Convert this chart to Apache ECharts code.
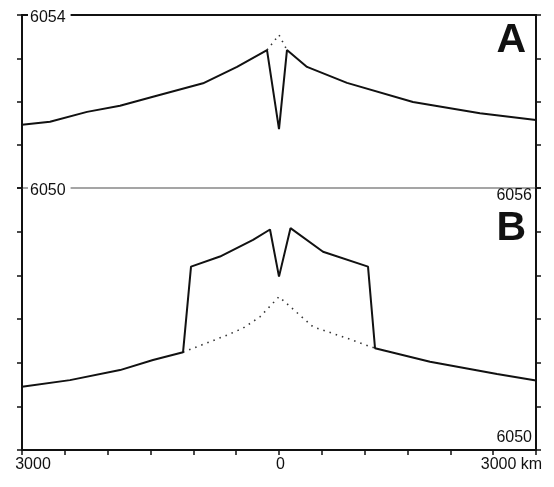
<!DOCTYPE html>
<html>
<head>
<meta charset="utf-8">
<script src="https://cdn.jsdelivr.net/npm/echarts@6/dist/echarts.min.js"></script>
<style>html,body{margin:0;padding:0;background:#fff}#c{width:554px;height:487px}</style>
</head>
<body>
<div id="c"></div>
<script>
// Panel A: radius (km) versus distance (km)
const kmA = [-3000, -2673, -2241, -1856, -1471, -887, -490, -140, 0, 93, 327, 794, 1564, 2346, 3000];
const radA = [6051.46, 6051.53, 6051.76, 6051.90, 6052.11, 6052.42, 6052.80, 6053.19, 6051.36, 6053.19, 6052.80, 6052.43, 6051.99, 6051.73, 6051.57];
const kmA0 = [-140, 0, 93];
const radA0 = [6053.19, 6053.54, 6053.19];
// Panel B
const kmB = [-3000, -2440, -1856, -1471, -1120, -1027, -689, -303, -105, 0, 134, 514, 1039, 1121, 1763, 2545, 3000];
const radB = [6051.45, 6051.60, 6051.83, 6052.06, 6052.24, 6054.20, 6054.43, 6054.81, 6055.05, 6053.97, 6055.08, 6054.54, 6054.20, 6052.33, 6052.02, 6051.74, 6051.59];
const kmB0 = [-1120, -607, -420, -222, 0, 397, 794, 1121];
const radB0 = [6052.24, 6052.63, 6052.79, 6053.05, 6053.51, 6052.82, 6052.56, 6052.33];
// tick labels
const xTickLabels = {'-3000': '3000', '0': '0', '3000': '3000 km'};
const yLabelsA = [6054, 6050];
const yLabelsB = [6056, 6050];
const panelNames = ['A', 'B'];

const zip = (a, b) => a.map((v, i) => [v, b[i]]);
const FONT = '"Liberation Sans", Arial, sans-serif';
const black = '#111';

const solid = {color: black, width: 2};
const dotted = {color: '#333', width: 1.6, type: [1.5, 5]};

const chart = echarts.init(document.getElementById('c'), null, {renderer: 'canvas'});
const hiddenAxisBits = {axisTick: {show: false}, axisLabel: {show: false}, splitLine: {show: false}};
const yLine = {show: true, onZero: false, lineStyle: {color: black, width: 2}};
const yTick = {show: true, length: 5, lineStyle: {color: black, width: 1.5}};

chart.setOption({
  animation: false,
  backgroundColor: '#fff',
  title: [
    {text: panelNames[0], right: 28, top: 20, padding: 0, textStyle: {fontFamily: FONT, fontSize: 41, fontWeight: 'bold', color: black}},
    {text: panelNames[1], right: 28, top: 208, padding: 0, textStyle: {fontFamily: FONT, fontSize: 41, fontWeight: 'bold', color: black}}
  ],
  grid: [
    {left: 22, right: 18, top: 15, height: 173},
    {left: 22, right: 18, top: 188, height: 262}
  ],
  xAxis: [
    {gridIndex: 0, type: 'value', min: -3000, max: 3000, interval: 500, position: 'top',
     axisLine: {onZero: false, lineStyle: {color: black, width: 2}}, ...hiddenAxisBits},
    {gridIndex: 0, type: 'value', min: -3000, max: 3000, interval: 500, position: 'bottom',
     axisLine: {onZero: false, lineStyle: {color: '#888', width: 1.5}}, ...hiddenAxisBits},
    {gridIndex: 1, type: 'value', min: -3000, max: 3000, interval: 500, position: 'bottom',
     axisLine: {onZero: false, lineStyle: {color: black, width: 2}},
     axisTick: {show: true, length: 5, lineStyle: {color: black, width: 1.5}},
     splitLine: {show: false},
     axisLabel: {
       show: true, margin: 7, color: black, fontFamily: FONT, fontSize: 16,
       formatter: v => {
         const t = xTickLabels[String(v)];
         if (t === undefined) return '';
         if (v < 0) return '{l|' + t + '}';
         if (v > 0) return '{r|' + t + '}';
         return '{c|' + t + '}';
       },
       rich: {
         l: {padding: [0, 0, 0, 22], fontFamily: FONT, fontSize: 16, color: black},
         r: {padding: [0, 49, 0, 0], fontFamily: FONT, fontSize: 16, color: black},
         c: {padding: [0, 0, 0, 3], fontFamily: FONT, fontSize: 16, color: black}
       }
     }}
  ],
  yAxis: [
    {gridIndex: 0, type: 'value', min: 6050, max: 6054, interval: 1, position: 'left', z: 5,
     axisLine: yLine, axisTick: yTick, splitLine: {show: false},
     axisLabel: {
       show: true, inside: true, margin: 6,
       formatter: v => yLabelsA.includes(v) ? '{w|' + v + '}' : '',
       rich: {w: {fontFamily: FONT, fontSize: 16, color: black, backgroundColor: '#fff', padding: [6, 5, 0, 2]}}
     }},
    {gridIndex: 0, type: 'value', min: 6050, max: 6054, interval: 1, position: 'right',
     axisLine: yLine, axisTick: yTick, splitLine: {show: false}, axisLabel: {show: false}},
    {gridIndex: 1, type: 'value', min: 6050, max: 6056, interval: 1, position: 'left',
     axisLine: yLine, axisTick: yTick, splitLine: {show: false}, axisLabel: {show: false}},
    {gridIndex: 1, type: 'value', min: 6050, max: 6056, interval: 1, position: 'right', z: 5,
     axisLine: yLine, axisTick: yTick, splitLine: {show: false},
     axisLabel: {
       show: true, inside: true, margin: 4,
       formatter: v => v === yLabelsB[0] ? '{t|' + v + '}' : (v === yLabelsB[1] ? '{b|' + v + '}' : ''),
       rich: {
         t: {fontFamily: FONT, fontSize: 16, color: black, padding: [16, 0, 0, 0]},
         b: {fontFamily: FONT, fontSize: 16, color: black, padding: [0, 0, 24, 0]}
       }
     }}
  ],
  series: [
    {type: 'line', xAxisIndex: 0, yAxisIndex: 0, data: zip(kmA0, radA0), showSymbol: false, lineStyle: dotted, z: 2},
    {type: 'line', xAxisIndex: 0, yAxisIndex: 0, data: zip(kmA, radA), showSymbol: false, lineStyle: solid, z: 3},
    {type: 'line', xAxisIndex: 2, yAxisIndex: 2, data: zip(kmB0, radB0), showSymbol: false, lineStyle: dotted, z: 2},
    {type: 'line', xAxisIndex: 2, yAxisIndex: 2, data: zip(kmB, radB), showSymbol: false, lineStyle: solid, z: 3}
  ]
});
</script>
</body>
</html>
